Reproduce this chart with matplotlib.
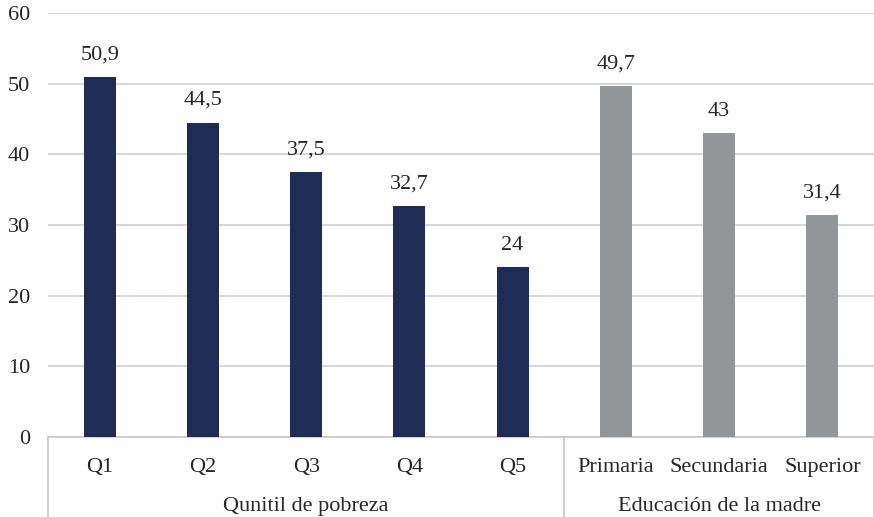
import matplotlib.pyplot as plt
from matplotlib.lines import Line2D

categorias = ["Q1", "Q2", "Q3", "Q4", "Q5", "Primaria", "Secundaria", "Superior"]
valores = [50.9, 44.5, 37.5, 32.7, 24, 49.7, 43, 31.4]
grupos = ["Qunitil de pobreza", "Educación de la madre"]
tam_grupos = [5, 3]

azul = "#1f2d56"
gris = "#939598"
colores = [azul] * tam_grupos[0] + [gris] * tam_grupos[1]

plt.rcParams["font.family"] = ["Liberation Serif", "DejaVu Serif"]
fs = 16

fig = plt.figure(figsize=(8.74, 5.17), dpi=100)
ax = fig.add_axes([48 / 874, 1 - 437 / 517, 1 - 48 / 874, (437 - 13) / 517])

x = list(range(len(categorias)))
barras = ax.bar(x, valores, width=0.31, color=colores, zorder=3)

# etiquetas de valor con coma decimal
for b, v in zip(barras, valores):
    txt = f"{v:g}".replace(".", ",")
    ax.annotate(txt, (b.get_x() + b.get_width() / 2, v), xytext=(0, 9),
                textcoords="offset points", ha="center", va="bottom",
                fontsize=fs, color="#262626")

ax.set_xlim(-0.5, len(categorias) - 0.5)
ax.set_ylim(0, 60)
ax.set_yticks(range(0, 61, 10))
ax.yaxis.grid(True, color="#d0d0d0", linewidth=1.2, zorder=0)
ax.set_axisbelow(True)
for s in ["top", "right", "left"]:
    ax.spines[s].set_visible(False)
ax.spines["bottom"].set_color("#c8c8c8")
ax.spines["bottom"].set_linewidth(1.2)
ax.tick_params(axis="y", length=0, pad=13, labelsize=fs, colors="#262626")
ax.tick_params(axis="x", length=0, pad=15, labelsize=fs, colors="#262626")
ax.set_xticks(x)
ax.set_xticklabels(categorias)

# separadores y etiquetas de grupo
trans = ax.get_xaxis_transform()
inicio = -0.5
for nombre, n in zip(grupos, tam_grupos):
    fin = inicio + n
    ax.text((inicio + fin) / 2, -0.163, nombre, transform=trans,
            ha="center", va="center", fontsize=fs, color="#262626")
    inicio = fin
for pos in [-0.5, 4.5, 7.5]:
    ax.add_line(Line2D([pos, pos], [0, -0.195], transform=trans, color="#c8c8c8",
                       linewidth=1.2, clip_on=False))

fig.savefig("out.png", dpi=100)
